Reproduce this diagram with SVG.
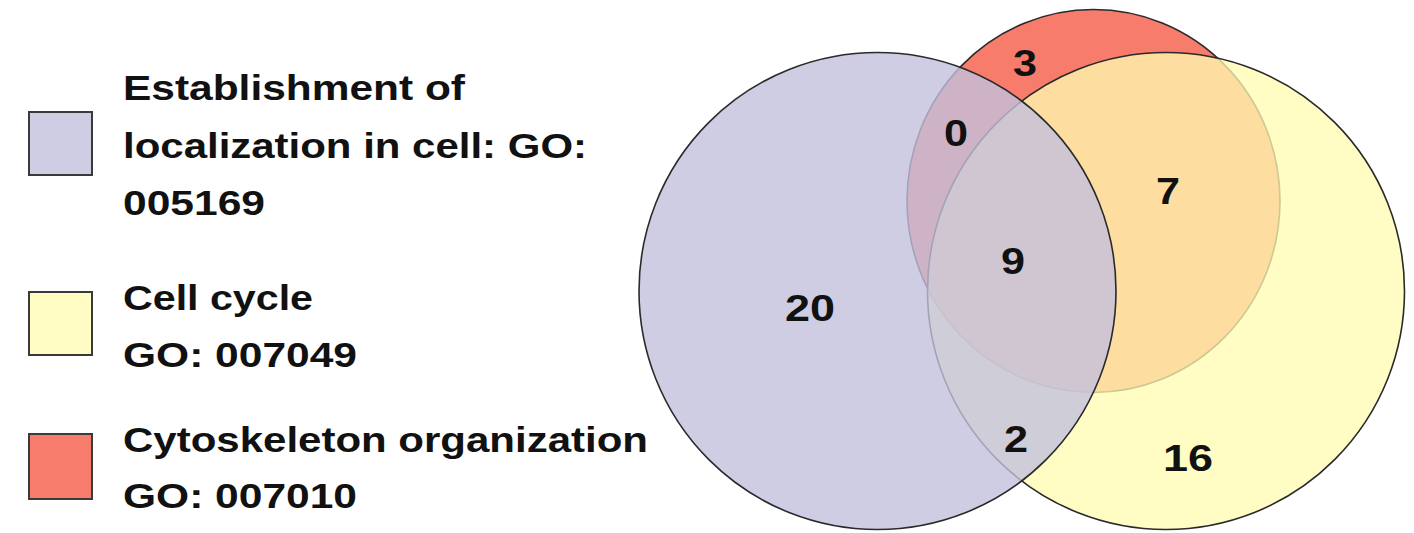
<svg xmlns="http://www.w3.org/2000/svg" width="1414" height="533" viewBox="0 0 1414 533">
<style>
  .lbl { font-family: "Liberation Sans", Arial, sans-serif; font-weight: bold; font-size: 35px; fill: #111; }
  .num { font-family: "Liberation Sans", Arial, sans-serif; font-weight: bold; font-size: 37px; fill: #111; text-anchor: middle; }
  .sw { stroke: #3a3a3a; stroke-width: 2; }
  .set { stroke: #2a2a2a; stroke-width: 1.6; }
</style>
<rect width="1414" height="533" fill="#ffffff"/>
<g id="legend-localization">
  <rect class="sw" x="29" y="112" width="63" height="63" fill="#cfcde4"/>
  <text class="lbl" x="123" y="100" textLength="342" lengthAdjust="spacingAndGlyphs">Establishment of</text>
  <text class="lbl" x="123" y="158" textLength="464" lengthAdjust="spacingAndGlyphs">localization in cell: GO:</text>
  <text class="lbl" x="123" y="215" textLength="142" lengthAdjust="spacingAndGlyphs">005169</text>
</g>
<g id="legend-cellcycle">
  <rect class="sw" x="29" y="292" width="63" height="63" fill="#fffcc4"/>
  <text class="lbl" x="123" y="310" textLength="190" lengthAdjust="spacingAndGlyphs">Cell cycle</text>
  <text class="lbl" x="123" y="367" textLength="234" lengthAdjust="spacingAndGlyphs">GO: 007049</text>
</g>
<g id="legend-cytoskeleton">
  <rect class="sw" x="29" y="434" width="63" height="65" fill="#f87c6c"/>
  <text class="lbl" x="123" y="452" textLength="525" lengthAdjust="spacingAndGlyphs">Cytoskeleton organization</text>
  <text class="lbl" x="123" y="508" textLength="234" lengthAdjust="spacingAndGlyphs">GO: 007010</text>
</g>
<g id="set-cytoskeleton">
  <ellipse class="set" cx="1093.5" cy="201" rx="186.5" ry="191.5" fill="#f87c6c"/>
</g>
<g id="set-cellcycle">
  <circle class="set" cx="1166" cy="291" r="238.5" fill="#fffbb1" fill-opacity="0.76"/>
</g>
<g id="set-localization">
  <circle class="set" cx="877.5" cy="291" r="238.5" fill="#c3c0dd" fill-opacity="0.8"/>
</g>
<g id="counts">
  <text class="num" x="1025" y="76" textLength="24" lengthAdjust="spacingAndGlyphs">3</text>
  <text class="num" x="956" y="146" textLength="24" lengthAdjust="spacingAndGlyphs">0</text>
  <text class="num" x="1168" y="204" textLength="24" lengthAdjust="spacingAndGlyphs">7</text>
  <text class="num" x="1013" y="274" textLength="24" lengthAdjust="spacingAndGlyphs">9</text>
  <text class="num" x="810" y="321" textLength="50" lengthAdjust="spacingAndGlyphs">20</text>
  <text class="num" x="1016" y="452" textLength="24" lengthAdjust="spacingAndGlyphs">2</text>
  <text class="num" x="1188" y="471" textLength="50" lengthAdjust="spacingAndGlyphs">16</text>
</g>
<g id="connectors"></g>
</svg>
